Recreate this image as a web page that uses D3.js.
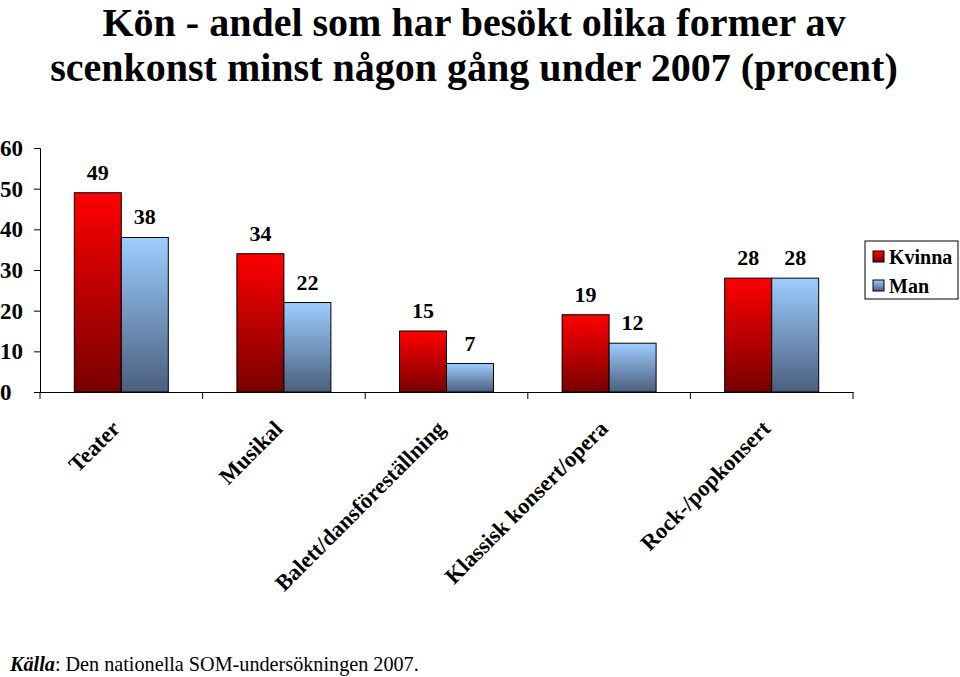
<!DOCTYPE html>
<html><head><meta charset="utf-8">
<script src="https://cdn.jsdelivr.net/npm/d3@7"></script>
<style>body{margin:0;background:#fff}svg{display:block}svg text{font-family:"Liberation Serif",serif !important}</style>
</head><body>
<script>
const categories = ["Teater","Musikal","Balett/dansföreställning","Klassisk konsert/opera","Rock-/popkonsert"];
const seriesNames = ["Kvinna","Man"];
const kvinna = [49,34,15,19,28];
const man = [38,22,7,12,28];
const yTicks = [0,10,20,30,40,50,60];
const titleLines = ["Kön - andel som har besökt olika former av","scenkonst minst någon gång under 2007 (procent)"];

const FF="Liberation Serif";
const W=960,H=677;
const svg=d3.select("body").append("svg").attr("width",W).attr("height",H).attr("font-family",FF);
const defs=svg.append("defs");
const grads=[["gK","#ff0000","#780000"],["gM","#9dcdff","#4a5f7e"]];
grads.forEach(([id,a,b])=>{
  const g=defs.append("linearGradient").attr("id",id).attr("x1",0).attr("y1",0).attr("x2",0).attr("y2",1);
  g.append("stop").attr("offset","0%").attr("stop-color",a);
  g.append("stop").attr("offset","100%").attr("stop-color",b);
});

svg.selectAll("text.title").data(titleLines).join("text").attr("class","title")
  .attr("x",474).attr("y",(d,i)=>36+i*45).attr("text-anchor","middle").attr("font-family",FF)
  .attr("font-size",40).attr("font-weight","bold").text(d=>d);

const x0=40,x1=853,yb=392,yt=148;
const x=d3.scaleBand().domain(categories).range([x0,x1]).paddingInner(0).paddingOuter(0);
const y=d3.scaleLinear().domain([0,60]).range([yb,yt]);
const inner=d3.scaleBand().domain(seriesNames).range([0,x.bandwidth()]).paddingOuter(0.73).paddingInner(0);

const data=categories.map((c,i)=>({c,vals:[{s:"Kvinna",v:kvinna[i]},{s:"Man",v:man[i]}]}));
const g=svg.append("g");
const grp=g.selectAll("g.cat").data(data).join("g").attr("class","cat").attr("transform",d=>`translate(${x(d.c)},0)`);
grp.selectAll("rect").data(d=>d.vals).join("rect")
  .attr("x",d=>inner(d.s)).attr("width",inner.bandwidth())
  .attr("y",d=>y(d.v)).attr("height",d=>y(0)-y(d.v))
  .attr("fill",d=>d.s==="Kvinna"?"url(#gK)":"url(#gM)")
  .attr("stroke","#000").attr("stroke-width",1);
grp.selectAll("text.val").data(d=>d.vals).join("text").attr("class","val")
  .attr("x",d=>inner(d.s)+inner.bandwidth()/2).attr("y",d=>y(d.v)-13).attr("font-family",FF)
  .attr("text-anchor","middle").attr("font-size",22).attr("font-weight","bold").text(d=>d.v);

// y axis
const ya=svg.append("g").attr("transform",`translate(${x0},0)`)
  .call(d3.axisLeft(y).tickValues(yTicks).tickSize(6).tickFormat(d3.format("d")));
ya.attr("font-family",FF);
ya.select(".domain").attr("stroke","#000");
ya.selectAll(".tick line").attr("stroke","#000");
ya.selectAll(".tick text").attr("x",-40).attr("text-anchor","start")
  .attr("font-size",23).attr("font-weight","bold").attr("font-family",FF).attr("fill","#000");

// x axis
const xa=svg.append("g").attr("transform",`translate(0,${yb})`)
  .call(d3.axisBottom(x).tickSize(0).tickFormat(""));
xa.select(".domain").attr("stroke","#000");
const bounds=categories.map(c=>x(c)).concat([x1]);
xa.selectAll("line.tk").data(bounds).join("line").attr("class","tk")
  .attr("x1",d=>d).attr("x2",d=>d).attr("y1",0).attr("y2",7).attr("stroke","#000");
svg.selectAll("text.cat").data(categories).join("text").attr("class","cat")
  .attr("transform",d=>`translate(${x(d)+x.bandwidth()/2},430) rotate(-45)`).attr("font-family",FF)
  .attr("text-anchor","end").attr("font-size",22.5).attr("font-weight","bold").text(d=>d);

// legend
const lg=svg.append("g");
lg.append("rect").attr("x",865).attr("y",241).attr("width",93).attr("height",58).attr("fill","#fff").attr("stroke","#000");
seriesNames.forEach((s,i)=>{
  lg.append("rect").attr("x",873).attr("y",251+i*29).attr("width",11).attr("height",11)
    .attr("fill",i===0?"url(#gK)":"url(#gM)").attr("stroke","#000");
  lg.append("text").attr("x",889).attr("y",264+i*29).attr("font-family",FF).attr("font-size",20).attr("font-weight","bold").text(s);
});

// source
const src=svg.append("text").attr("x",10).attr("y",671).attr("font-size",20.2).attr("font-family",FF);
src.append("tspan").attr("font-weight","bold").attr("font-style","italic").text("Källa");
src.append("tspan").text(": Den nationella SOM-undersökningen 2007.");
</script>
</body></html>
